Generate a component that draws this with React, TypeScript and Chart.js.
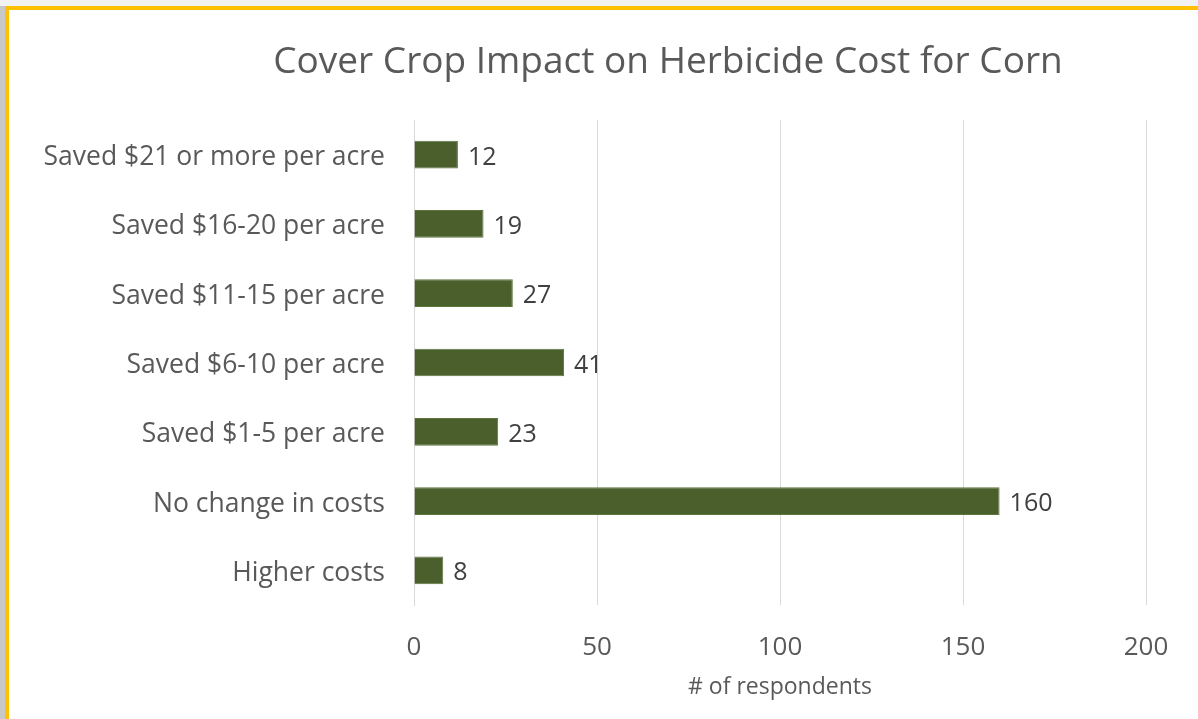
import React, { useEffect, useRef } from "react";
import { Chart, registerables } from "chart.js";

Chart.register(...registerables);

const categories = [
  "Saved $21 or more per acre",
  "Saved $16-20 per acre",
  "Saved $11-15 per acre",
  "Saved $6-10 per acre",
  "Saved $1-5 per acre",
  "No change in costs",
  "Higher costs",
];
const respondents = [12, 19, 27, 41, 23, 160, 8];
const xTicks = [0, 50, 100, 150, 200];

const titleText = "Cover Crop Impact on Herbicide Cost for Corn";
const axisTitle = "# of respondents";
const FONT = "'Open Sans', sans-serif";

const valueLabels = {
  id: "valueLabels",
  afterDatasetsDraw(chart: any) {
    const ctx = chart.ctx;
    const meta = chart.getDatasetMeta(0);
    ctx.save();
    ctx.font = `25px ${FONT}`;
    ctx.fillStyle = "#404040";
    ctx.textAlign = "left";
    ctx.textBaseline = "middle";
    meta.data.forEach((bar: any, i: number) => {
      ctx.fillText(String(respondents[i]), bar.x + 10, bar.y + 3);
    });
    ctx.restore();
  },
};

const chartTitle = {
  id: "chartTitle",
  afterDraw(chart: any) {
    const ctx = chart.ctx;
    ctx.save();
    ctx.font = `37px ${FONT}`;
    ctx.fillStyle = "#595959";
    ctx.textAlign = "center";
    ctx.textBaseline = "alphabetic";
    ctx.fillText(titleText, 668, 73);
    ctx.restore();
  },
};

export default function App() {
  const ref = useRef<HTMLCanvasElement>(null);
  useEffect(() => {
    document.body.style.margin = "0";
    const chart = new Chart(ref.current!, {
      type: "bar",
      data: {
        labels: categories,
        datasets: [
          {
            data: respondents,
            backgroundColor: "#4B5F2D",
            borderColor: "#5E7540",
            borderWidth: 1,
            categoryPercentage: 0.4,
            barPercentage: 1,
          },
        ],
      },
      options: {
        indexAxis: "y",
        animation: false,
        responsive: false,
        maintainAspectRatio: false,
        layout: { padding: { left: 0, right: 52, top: 120, bottom: 0 } },
        plugins: {
          legend: { display: false },
          tooltip: { enabled: false },
          title: { display: false },
        },
        scales: {
          x: {
            min: 0,
            max: 200,
            afterBuildTicks(scale: any) {
              scale.ticks = xTicks.map((v) => ({ value: v }));
            },
            afterFit(scale: any) {
              scale.height = 114;
            },
            grid: { color: "#D9D9D9", drawTicks: false, lineWidth: 1 },
            border: { display: false },
            ticks: {
              color: "#595959",
              font: { family: FONT, size: 26 },
              padding: 27,
            },
            title: {
              display: true,
              text: axisTitle,
              color: "#595959",
              font: { family: FONT, size: 23 },
              padding: { top: 0, bottom: 18 },
            },
          },
          y: {
            afterFit(scale: any) {
              scale.width = 414;
            },
            grid: { display: false, drawTicks: false },
            border: { display: true, color: "#D9D9D9" },
            ticks: {
              color: "#595959",
              font: { family: FONT, size: 26.5 },
              padding: 29,
              labelOffset: 3,
            },
          },
        },
      },
      plugins: [valueLabels, chartTitle],
    });
    return () => chart.destroy();
  }, []);

  return (
    <div style={{ position: "relative", width: 1198, height: 719, background: "#F2F2F2", overflow: "hidden" }}>
      <div style={{ position: "absolute", left: 0, top: 6, width: 5, height: 713, background: "#C8C8C8" }} />
      <div
        style={{
          position: "absolute",
          left: 5,
          top: 6,
          width: 1200,
          height: 720,
          background: "#FFFFFF",
          borderLeft: "4px solid #FFC000",
          borderTop: "4px solid #FFC000",
          boxSizing: "border-box",
        }}
      />
      <canvas ref={ref} width={1198} height={719} style={{ position: "absolute", left: 0, top: 0 }} />
    </div>
  );
}
